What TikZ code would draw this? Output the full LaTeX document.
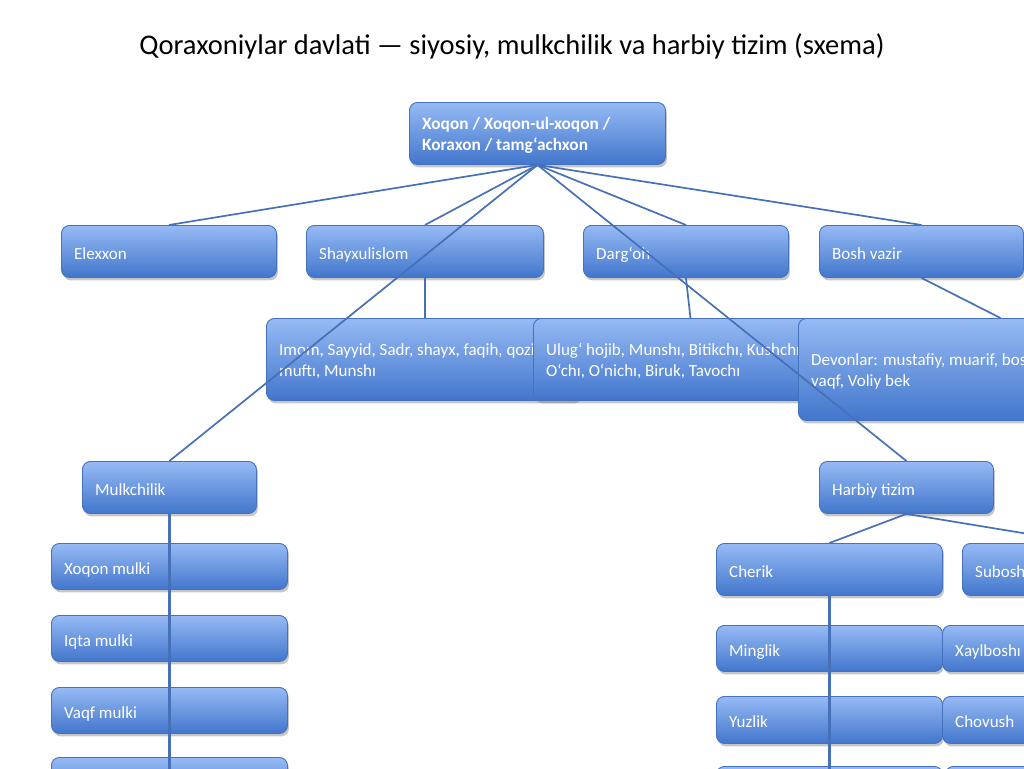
\documentclass[tikz,border=0pt]{standalone}
\usepackage{fontspec}
\setmainfont{Carlito}
\usetikzlibrary{shadows}
\definecolor{boxtop}{RGB}{150,186,244}
\definecolor{boxbot}{RGB}{66,118,204}
\definecolor{boxline}{RGB}{68,114,190}
\definecolor{conncol}{RGB}{70,112,184}
\tikzset{
  box/.style={draw=boxline, line width=0.9pt, rounded corners=8pt,
    top color=boxtop, bottom color=boxbot,
    drop shadow={shadow xshift=1.5pt, shadow yshift=-3pt, opacity=0.45},
    inner sep=0pt},
  lbl/.style={anchor=west, text=white, font=\fontsize{17}{20.5}\selectfont,
    align=left, inner sep=0pt,
    execute at begin node=\strut, execute at end node=\strut},
  conn/.style={draw=conncol, line width=1.7pt},
  vconn/.style={draw=conncol, line width=2.3pt},
  ttl/.style={font=\fontsize{28.5}{34}\selectfont, text=black, inner sep=0pt}
}
% \bx{name}{left}{top}{width}{height}{text}
\newcommand\bx[6]{%
  \node[box, minimum width=#4pt, minimum height=#5pt, anchor=north west] (#1) at (#2,#3) {};
  \node[lbl] (#1t) at ([xshift=13pt,yshift=-3.5pt]#1.west) {#6};}
\begin{document}
\begin{tikzpicture}[x=1pt,y=-1pt]
\useasboundingbox (0,0) rectangle (1024,768);
\clip (0,0) rectangle (1024,768);

\node[ttl] (title) at (512,46) {Qoraxoniylar davlati — siyosiy, mulkchilik va harbiy tizim (sxema)};

% top
\bx{xoq}{409}{102}{256}{62}{\bfseries\fontsize{17.3}{20.5}\selectfont Xoqon / Xoqon-ul-xoqon /\\ \bfseries\fontsize{17.3}{20.5}\selectfont Koraxon / tamg‘achxon}

% second row
\bx{el}{61}{225}{215}{52}{Elexxon}
\bx{sh}{306}{225}{237}{52}{Shayxulislom}
\bx{dg}{583}{225}{205}{52}{Darg‘oh}
\bx{bv}{819}{225}{204}{52}{Bosh vazir}

% third row
\bx{im}{266}{318}{314}{82}{Imom, Sayyid, Sadr, shayx, faqih, qozi,\\muftı, Munshı}
\bx{ul}{533}{318}{314}{82}{Ulug‘ hojib, Munshı, Bitikchı, Kushchı,\\O‘chı, O‘nichı, Biruk, Tavochı}
\bx{dv}{798}{318}{404}{102}{Devonlar: mustafiy, muarif, bosh,\\vaqf, Voliy bek}

% mulkchilik
\bx{mk}{82}{461}{174}{52}{Mulkchilik}
\bx{m1}{51}{543}{236}{46}{Xoqon mulki}
\bx{m2}{51}{615}{236}{46}{Iqta mulki}
\bx{m3}{51}{687}{236}{46}{Vaqf mulki}
\bx{m4}{51}{757}{236}{46}{}

% harbiy
\bx{hb}{819}{461}{174}{52}{Harbiy tizim}
\bx{ch}{716}{543}{226}{52}{Cherik}
\bx{sb}{962}{543}{242}{52}{Suboshı}
\bx{mg}{716}{625}{226}{46}{Minglik}
\bx{xb}{942}{625}{226}{46}{Xaylboshı}
\bx{yz}{716}{696}{226}{47}{Yuzlik}
\bx{cv}{942}{696}{226}{47}{Chovush}
\bx{r1}{716}{766}{226}{47}{}
\bx{r2}{945}{766}{226}{47}{}

\coordinate (mkend) at (169,800);
\coordinate (chend) at (829,800);

% connectors
\draw[conn] (xoq.south) -- (el.north);
\draw[conn] (xoq.south) -- (sh.north);
\draw[conn] (xoq.south) -- (mk.north);
\draw[conn] (xoq.south) -- (dg.north);
\draw[conn] (xoq.south) -- (hb.north);
\draw[conn] (xoq.south) -- (bv.north);
\draw[conn] (sh.south) -- (sh.south |- im.north);
\draw[conn] (dg.south) -- (ul.north);
\draw[conn] (bv.south) -- (dv.north);
\draw[conn] (hb.south) -- (ch.north);
\draw[conn] (hb.south) -- (sb.north);
\draw[vconn] (mk.south) -- (mk.south |- mkend);
\draw[vconn] (ch.south) -- (ch.south |- chend);
\end{tikzpicture}
\end{document}
